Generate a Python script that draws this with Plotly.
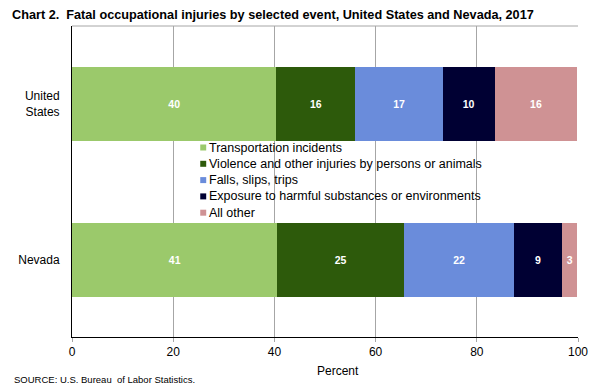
import plotly.graph_objects as go

categories = ["Nevada", "United States"]
series_names = [
    "Transportation incidents",
    "Violence and other injuries by persons or animals",
    "Falls, slips, trips",
    "Exposure to harmful substances or environments",
    "All other",
]
# values per series: [Nevada, United States]
transportation = [40.6, 40.4]
violence = [25.0, 15.6]
falls = [21.8, 17.3]
exposure = [9.4, 10.2]
all_other = [3.1, 16.4]
series_values = [transportation, violence, falls, exposure, all_other]
colors = ["#9BC96B", "#2D5A0B", "#6A8CDB", "#000033", "#CF9294"]
x_ticks = [0, 20, 40, 60, 80, 100]
y_tick_text = ["Nevada", "United<br>States"]

font_main = "Liberation Sans, Arial, sans-serif"

W, H = 600, 389
ML, MR, MT, MB = 72, 19, 26, 52
PW, PH = W - ML - MR, H - MT - MB

fig = go.Figure()
for name, vals, col in zip(series_names, series_values, colors):
    fig.add_trace(go.Bar(
        y=categories, x=vals, name=name, orientation="h",
        marker=dict(color=col, line=dict(width=0)),
        texttemplate="<b>%{x:.0f}</b>", textposition="inside", insidetextanchor="middle",
        textfont=dict(color="white", size=10.5, family=font_main),
        textangle=0, showlegend=False,
    ))

# manual legend (compact row spacing as in the reference)
annotations = []
shapes = []
legend_x_px, legend_y0_px, legend_dy_px, sq = 201, 147.5, 16.3, 6
for i, (name, col) in enumerate(zip(series_names, colors)):
    yc = legend_y0_px + i * legend_dy_px
    yp = (MT + PH - yc) / PH
    shapes.append(dict(
        type="rect", xref="paper", yref="paper",
        x0=(legend_x_px - ML) / PW, x1=(legend_x_px + sq - ML) / PW,
        y0=yp - sq / 2 / PH, y1=yp + sq / 2 / PH,
        fillcolor=col, line=dict(width=0),
    ))
    annotations.append(dict(
        text=name, xref="paper", yref="paper",
        x=(legend_x_px + sq + 2 - ML) / PW, y=yp, xanchor="left", yanchor="middle",
        showarrow=False, font=dict(size=12.5, family=font_main, color="black"), borderpad=0,
    ))

annotations += [
    dict(text="Percent", xref="paper", yref="paper", x=(340 - ML) / PW, y=(MT + PH - 371) / PH,
         xanchor="center", yanchor="middle", showarrow=False, font=dict(size=12)),
    dict(text="SOURCE: U.S. Bureau&nbsp; of Labor Statistics.", xref="paper", yref="paper",
         x=(12 - ML) / PW, y=(MT + PH - 379) / PH, xanchor="left", yanchor="middle",
         showarrow=False, font=dict(size=9.5)),
]
shapes.append(dict(type="line", xref="paper", yref="paper", x0=0, x1=1, y0=1, y1=1,
                   line=dict(color="#A6A6A6", width=1)))

fig.update_layout(
    barmode="stack",
    bargap=0.526,
    width=W, height=H,
    margin=dict(l=ML, r=MR, t=MT, b=MB),
    plot_bgcolor="white", paper_bgcolor="white",
    font=dict(family=font_main, size=12, color="black"),
    title=dict(
        text="<b>Chart 2.&nbsp; Fatal occupational injuries by selected event, United States and Nevada, 2017</b>",
        x=12 / W, xanchor="left", y=1 - 15 / H, yanchor="middle",
        font=dict(family="Liberation Sans Narrow, Arial Narrow, sans-serif", size=12.7, color="black"),
    ),
    xaxis=dict(
        range=[0, 100], tickvals=x_ticks, showgrid=True, gridcolor="#A6A6A6", gridwidth=1,
        showline=True, linecolor="black", linewidth=1, ticks="outside", ticklen=4, tickcolor="#A6A6A6",
        tickfont=dict(size=12), zeroline=False,
    ),
    yaxis=dict(
        range=[-0.494, 1.5], tickvals=categories, ticktext=y_tick_text,
        showline=True, linecolor="black", linewidth=1, ticks="", showgrid=False,
        tickfont=dict(size=12), ticklabelstandoff=9,
    ),
    showlegend=False,
    annotations=annotations,
    shapes=shapes,
)

fig.write_html("out.html", config={"displayModeBar": False},
               post_script="document.body.style.margin='0';")
